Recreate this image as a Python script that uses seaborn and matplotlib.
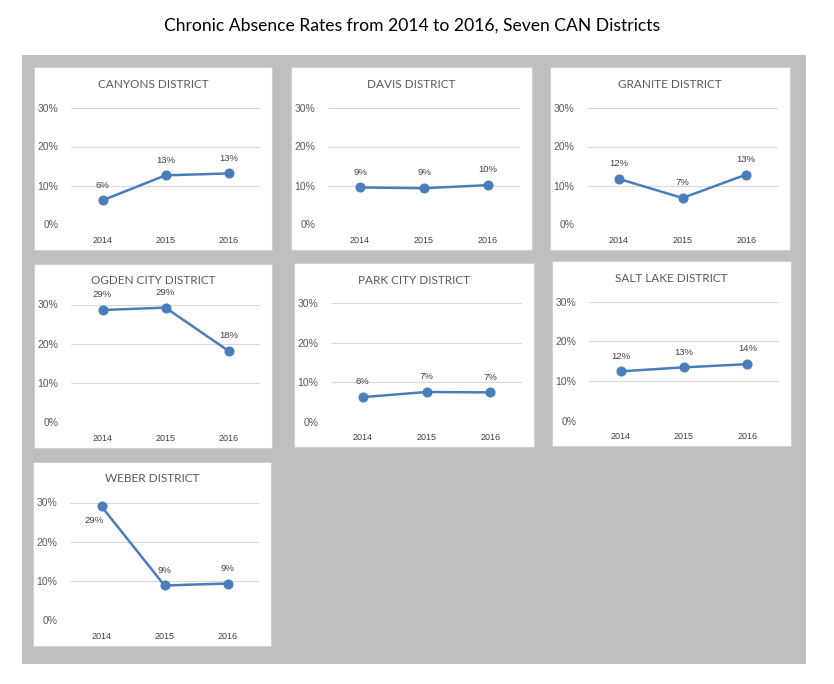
import matplotlib
matplotlib.use("Agg")
import matplotlib.pyplot as plt
import seaborn as sns
import pandas as pd
from matplotlib.patches import Rectangle
from matplotlib.ticker import FuncFormatter

# ---------------- data ----------------
years = ["2014", "2015", "2016"]
districts = ["CANYONS DISTRICT", "DAVIS DISTRICT", "GRANITE DISTRICT",
             "OGDEN CITY DISTRICT", "PARK CITY DISTRICT", "SALT LAKE DISTRICT",
             "WEBER DISTRICT"]
canyons = [0.062, 0.126, 0.131]
davis = [0.095, 0.093, 0.101]
granite = [0.117, 0.068, 0.128]
ogden = [0.286, 0.292, 0.182]
park_city = [0.062, 0.075, 0.074]
salt_lake = [0.124, 0.134, 0.142]
weber = [0.290, 0.089, 0.094]
series = [canyons, davis, granite, ogden, park_city, salt_lake, weber]
label_text = [["6%", "13%", "13%"], ["9%", "9%", "10%"], ["12%", "7%", "13%"],
              ["29%", "29%", "18%"], ["6%", "7%", "7%"], ["12%", "13%", "14%"],
              ["29%", "9%", "9%"]]
title = "Chronic Absence Rates from 2014 to 2016, Seven CAN Districts"

# ---------------- layout (pixels) ----------------
W, H = 834, 684
panels = [(34, 67, 272, 250), (291, 67, 532, 250), (550, 67, 790, 250),
          (34, 264, 272, 448), (294, 263, 534, 447), (552, 261, 791, 446),
          (33, 462, 271, 646)]
LINE_COLOR = "#4a7ebb"
TEXT_GRAY = "#595959"

sns.set_theme(style="white")
plt.rcParams["font.family"] = ["Lato", "DejaVu Sans"]

fig = plt.figure(figsize=(W / 100, H / 100), dpi=100)
fig.patch.set_facecolor("white")


def fx(x):
    return x / W


def fy(y):
    return 1 - y / H


# gray backdrop
fig.patches.append(Rectangle((fx(22), fy(664)), fx(806) - fx(22), fy(55) - fy(664),
                             transform=fig.transFigure, facecolor="#bfbfbf",
                             edgecolor="none", zorder=0))

fig.text(fx(412), fy(26), title, ha="center", va="center", fontsize=12.6,
         color="black", family=["Lato", "DejaVu Sans"])

for i, (l, t, r, b) in enumerate(panels):
    fig.patches.append(Rectangle((fx(l), fy(b)), fx(r) - fx(l), fy(t) - fy(b),
                                 transform=fig.transFigure, facecolor="white",
                                 edgecolor="#d0d0d0", linewidth=0.8, zorder=1))
    # plot area
    pl, pr = l + 37, r - 12
    ptop, pbot = t + 40.5, b - 25.5
    ax = fig.add_axes([fx(pl), fy(pbot), fx(pr) - fx(pl), fy(ptop) - fy(pbot)])
    ax.set_facecolor("none")
    ax.set_zorder(2)
    df = pd.DataFrame({"idx": range(len(years)), "value": series[i]})
    sns.lineplot(data=df, x="idx", y="value", ax=ax, color=LINE_COLOR,
                 linewidth=1.8, marker="o", markersize=6.5,
                 markeredgecolor=LINE_COLOR, clip_on=False, zorder=3)
    ax.set_xlim(-0.5, len(years) - 0.5)
    ax.set_ylim(0, 0.30)
    ax.set_yticks([0, 0.10, 0.20, 0.30])
    ax.yaxis.set_major_formatter(FuncFormatter(lambda v, p: f"{v*100:.0f}%"))
    ax.set_xticks(range(len(years)))
    ax.set_xticklabels(years)
    ax.set_xlabel("")
    ax.set_ylabel("")
    ax.grid(axis="y", color="#d9d9d9", linewidth=0.8)
    ax.grid(axis="x", visible=False)
    for s in ax.spines.values():
        s.set_visible(False)
    ax.tick_params(axis="y", length=0, pad=9, labelsize=7.5, labelcolor=TEXT_GRAY)
    ax.tick_params(axis="x", length=0, pad=8, labelsize=6.5, labelcolor="#404040")
    for lab in ax.get_yticklabels():
        lab.set_family(["Liberation Sans", "DejaVu Sans"])
    for lab in ax.get_xticklabels():
        lab.set_family(["Liberation Sans", "DejaVu Sans"])
    # data labels
    for j, v in enumerate(series[i]):
        if districts[i] == "WEBER DISTRICT" and j == 0:
            off = (-5, -10)
        else:
            off = (0, 11)
        ax.annotate(label_text[i][j], (j, v), xytext=off, textcoords="offset points",
                    ha="center", va="center", fontsize=6.8, color="#404040",
                    family=["Liberation Sans", "DejaVu Sans"], zorder=4,
                    annotation_clip=False)
    # panel title
    fig.text(fx((l + r) / 2), fy(t + 17), districts[i], ha="center", va="center",
             fontsize=8.5, color=TEXT_GRAY, zorder=5)

fig.savefig("out.png", dpi=100, facecolor="white")
